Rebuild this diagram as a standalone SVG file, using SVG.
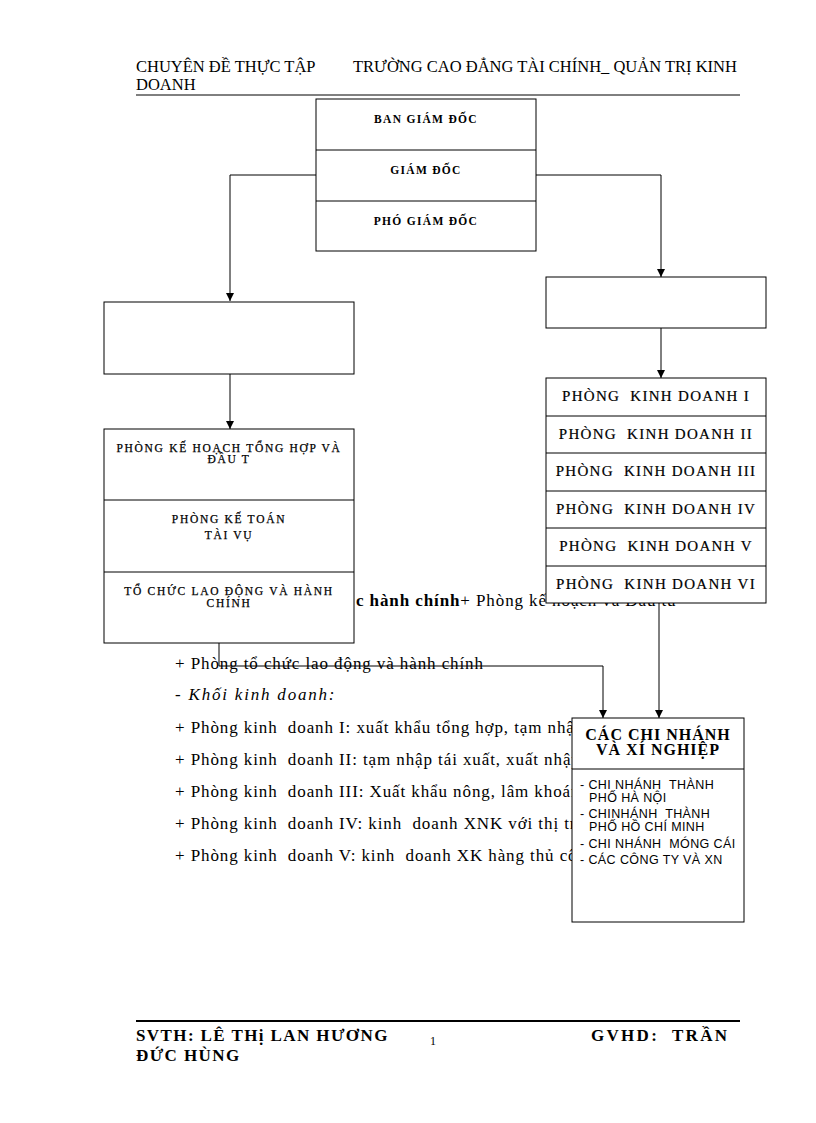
<svg xmlns="http://www.w3.org/2000/svg" width="816" height="1123" viewBox="0 0 816 1123">
<defs>
<style>
.serif{font-family:"Liberation Serif","Times New Roman",serif;fill:#000}
.hdr{font-size:16.5px}
.body{font-size:17px;letter-spacing:0.9px}
.bx{fill:#fff;stroke:#000;stroke-width:1}
.dv{stroke:#000;stroke-width:1}
.tb{font-size:11.5px;font-weight:bold;letter-spacing:1.3px;text-anchor:middle}
.ls{font-size:11.5px;letter-spacing:1.7px;text-anchor:middle;stroke:#000;stroke-width:0.25}
.kd{font-size:15px;letter-spacing:1.3px;text-anchor:middle;stroke:#000;stroke-width:0.2}
.cn{font-size:16px;font-weight:bold;letter-spacing:1px;text-anchor:middle}
.li{font-family:"Liberation Sans",Arial,sans-serif;font-size:12.5px;letter-spacing:0.4px;fill:#000}
.ft{font-size:17px;font-weight:bold;letter-spacing:1.4px}
.cx{fill:none;stroke:#000;stroke-width:1}
</style>
<marker id="ah" markerUnits="userSpaceOnUse" markerWidth="10" markerHeight="10" refX="8" refY="4" orient="auto">
<path d="M0,0 L8,4 L0,8 Z" fill="#000"/>
</marker>
</defs>
<rect width="816" height="1123" fill="#fff"/>

<g id="header" class="serif hdr">
<text x="136" y="72">CHUYÊN ĐỀ THỰC TẬP</text>
<text x="353" y="72">TRƯỜNG CAO ĐẲNG TÀI CHÍNH_ QUẢN TRỊ KINH</text>
<text x="136" y="90">DOANH</text>
<line x1="136" y1="95" x2="740" y2="95" stroke="#000" stroke-width="1"/>
</g>

<g id="body-text" class="serif body">
<text x="356" y="606"><tspan font-weight="bold">c hành chính</tspan>+ Phòng kế hoạch và Đầu tư</text>
<text x="175" y="669">+ Phòng tổ chức lao động và hành chính</text>
<text x="175" y="700" font-style="italic" style="letter-spacing:1.8px">- Khối kinh doanh:</text>
<text x="175" y="733" xml:space="preserve">+ Phòng kinh  doanh I: xuất khẩu tổng hợp, tạm nhập</text>
<text x="175" y="765" xml:space="preserve">+ Phòng kinh  doanh II: tạm nhập tái xuất, xuất nhập</text>
<text x="175" y="797" xml:space="preserve">+ Phòng kinh  doanh III: Xuất khẩu nông, lâm khoán</text>
<text x="175" y="829" xml:space="preserve">+ Phòng kinh  doanh IV: kinh  doanh XNK với thị tr</text>
<text x="175" y="861" xml:space="preserve">+ Phòng kinh  doanh V: kinh  doanh XK hàng thủ cô</text>
</g>

<g id="connectors">
<path class="cx" d="M316,175 H230 V301" marker-end="url(#ah)"/>
<path class="cx" d="M536,175 H661 V277" marker-end="url(#ah)"/>
<path class="cx" d="M230,374 V429" marker-end="url(#ah)"/>
<path class="cx" d="M661,328 V378" marker-end="url(#ah)"/>
<path class="cx" d="M659,603 V718" marker-end="url(#ah)"/>
<path class="cx" d="M219,643 V666 H603 V718" marker-end="url(#ah)"/>
</g>

<g id="ban-giam-doc" class="serif">
<rect class="bx" x="316" y="99" width="220" height="152"/>
<line class="dv" x1="316" y1="150" x2="536" y2="150"/>
<line class="dv" x1="316" y1="201" x2="536" y2="201"/>
<text class="tb" x="426" y="123">BAN GIÁM ĐỐC</text>
<text class="tb" x="426" y="174">GIÁM ĐỐC</text>
<text class="tb" x="426" y="225">PHÓ GIÁM ĐỐC</text>
</g>

<g id="khoi-left">
<rect class="bx" x="104" y="302" width="250" height="72"/>
</g>

<g id="khoi-right">
<rect class="bx" x="546" y="277" width="220" height="51"/>
</g>

<g id="phong-left" class="serif">
<rect class="bx" x="104" y="429" width="250" height="214"/>
<line class="dv" x1="104" y1="500" x2="354" y2="500"/>
<line class="dv" x1="104" y1="572" x2="354" y2="572"/>
<text class="ls" x="229" y="452">PHÒNG KẾ HOẠCH TỔNG HỢP VÀ</text>
<text class="ls" x="229" y="463">ĐẦU T</text>
<text class="ls" x="229" y="523">PHÒNG KẾ TOÁN</text>
<text class="ls" x="229" y="539">TÀI VỤ</text>
<text class="ls" x="229" y="595">TỔ CHỨC LAO ĐỘNG VÀ HÀNH</text>
<text class="ls" x="229" y="607">CHÍNH</text>
</g>

<g id="phong-kinh-doanh" class="serif">
<rect class="bx" x="546" y="378" width="220" height="225"/>
<line class="dv" x1="546" y1="416" x2="766" y2="416"/>
<line class="dv" x1="546" y1="453" x2="766" y2="453"/>
<line class="dv" x1="546" y1="491" x2="766" y2="491"/>
<line class="dv" x1="546" y1="528" x2="766" y2="528"/>
<line class="dv" x1="546" y1="566" x2="766" y2="566"/>
<text class="kd" x="656" y="401" xml:space="preserve">PHÒNG  KINH DOANH I</text>
<text class="kd" x="656" y="439" xml:space="preserve">PHÒNG  KINH DOANH II</text>
<text class="kd" x="656" y="476" xml:space="preserve">PHÒNG  KINH DOANH III</text>
<text class="kd" x="656" y="514" xml:space="preserve">PHÒNG  KINH DOANH IV</text>
<text class="kd" x="656" y="551" xml:space="preserve">PHÒNG  KINH DOANH V</text>
<text class="kd" x="656" y="589" xml:space="preserve">PHÒNG  KINH DOANH VI</text>
</g>

<g id="chi-nhanh">
<rect class="bx" x="572" y="718" width="172" height="204"/>
<line class="dv" x1="572" y1="769" x2="744" y2="769"/>
<text class="serif cn" x="658" y="740">CÁC CHI NHÁNH</text>
<text class="serif cn" x="658" y="755">VÀ XÍ NGHIỆP</text>
<text class="li" x="580" y="789" xml:space="preserve">- CHI NHÁNH  THÀNH</text>
<text class="li" x="589" y="802">PHỐ HÀ NỘI</text>
<text class="li" x="580" y="818" xml:space="preserve">- CHINHÁNH  THÀNH</text>
<text class="li" x="589" y="831">PHỐ HỒ CHÍ MINH</text>
<text class="li" x="580" y="848" xml:space="preserve">- CHI NHÁNH  MÓNG CÁI</text>
<text class="li" x="580" y="864">- CÁC CÔNG TY VÀ XN</text>
</g>

<g id="footer" class="serif">
<line x1="136" y1="1021" x2="740" y2="1021" stroke="#000" stroke-width="2"/>
<text class="ft" x="136" y="1041">SVTH: LÊ THị LAN HƯƠNG</text>
<text x="430" y="1045" font-size="12">1</text>
<text class="ft" x="591" y="1041" style="letter-spacing:2.3px" xml:space="preserve">GVHD:  TRẦN</text>
<text class="ft" x="136" y="1061">ĐỨC HÙNG</text>
</g>
</svg>
